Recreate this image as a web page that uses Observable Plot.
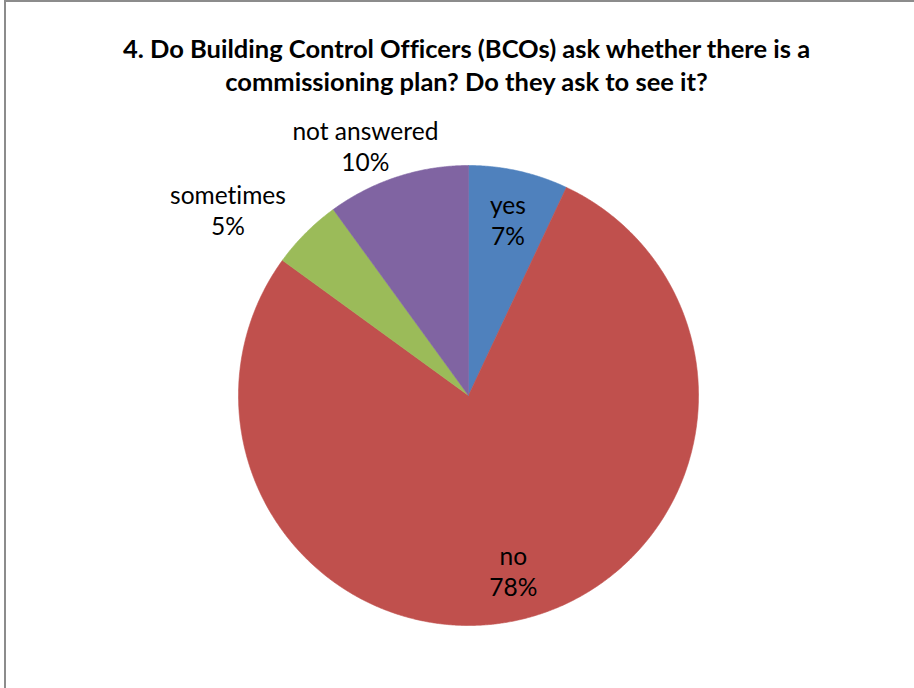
<!DOCTYPE html>
<html>
<head>
<meta charset="utf-8">
<script src="https://cdn.jsdelivr.net/npm/d3@7"></script>
<script src="https://cdn.jsdelivr.net/npm/@observablehq/plot@0.6"></script>
<style>
  html, body { margin: 0; padding: 0; background: #fff; }
  #wrap { position: relative; width: 914px; height: 688px; overflow: hidden; }
  #border { position: absolute; left: 4px; top: 0px; width: 940px; height: 720px;
            border-left: 2px solid #8c8c8c; border-top: 2px solid #8c8c8c; box-sizing: border-box; pointer-events: none; }
  #chart { position: absolute; left: 0; top: 0; }
  #chart text { font-variant-ligatures: none; }
</style>
</head>
<body>
<div id="wrap"><div id="chart"></div><div id="border"></div></div>
<script>
// ---- data ----
const categories = ["yes", "no", "sometimes", "not answered"];
const percents = [7, 78, 5, 10];
const colors = ["#4F81BD", "#C0504D", "#9BBB59", "#8064A2"];
const labelInside = [true, true, false, false];
const titleLines = ["4. Do Building Control Officers (BCOs) ask whether there is a", "commissioning plan? Do they ask to see it?"];

// ---- layout ----
const W = 914, H = 688;
const cx = 468, cy = 395, R = 230;
const labelFont = "Lato, 'Open Sans', sans-serif";
const labelSize = 24.5;
const lineH = 31;

const pie = d3.pie().sort(null).value(d => d.value).startAngle(0).endAngle(2 * Math.PI);
const arcs = pie(categories.map((c, i) => ({cat: c, value: percents[i]})));

// slice polygons in unit-radius coordinates
const slicePts = [];
arcs.forEach(a => {
  slicePts.push({cat: a.data.cat, x: 0, y: 0});
  const n = Math.max(4, Math.ceil((a.endAngle - a.startAngle) / 0.005));
  for (let k = 0; k <= n; k++) {
    const t = a.startAngle + (a.endAngle - a.startAngle) * k / n;
    slicePts.push({cat: a.data.cat, x: Math.sin(t), y: Math.cos(t)});
  }
  slicePts.push({cat: a.data.cat, x: 0, y: 0});
});

// label placement (inside: along mid-angle; outside: beyond the rim, pushed sideways)
const ctx = document.createElement("canvas").getContext("2d");
ctx.font = `${labelSize}px ${labelFont}`;
const labels = arcs.map((a, i) => {
  const mid = (a.startAngle + a.endAngle) / 2;
  const s = Math.sin(mid), c = Math.cos(mid);
  const text = `${a.data.cat}\n${percents[i]}%`;
  if (labelInside[i]) {
    const r = 0.785;
    return {text, x: r * s, y: r * c};
  }
  const hw = d3.max(text.split("\n"), t => ctx.measureText(t).width) / 2;
  const hh = lineH;
  const gap = 3;
  const px = (R + gap) * s + Math.sign(s) * Math.pow(Math.abs(s), 1.35) * hw * 2.08;
  const py = (R + gap) * c + c * hh * 0.95;
  return {text, x: px / R, y: py / R};
});

const chart = Plot.plot({
  width: W,
  height: H,
  margin: 0,
  x: {domain: [-cx / R, (W - cx) / R], axis: null},
  y: {domain: [-(H - cy) / R, cy / R], axis: null},
  color: {domain: categories, range: colors},
  style: {background: "transparent"},
  marks: [
    Plot.line(slicePts, {x: "x", y: "y", z: "cat", fill: "cat", stroke: "cat", strokeWidth: 0.6, curve: "linear"}),
    Plot.text(labels, {x: "x", y: "y", text: "text", fontSize: labelSize, lineHeight: lineH / labelSize,
      fontFamily: labelFont, fill: "#000", textAnchor: "middle", lineAnchor: "middle"}),
    Plot.text([titleLines.join("\n")], {frameAnchor: "top", dx: 9, dy: 34, fontSize: 25.5, fontWeight: "bold",
      fontFamily: labelFont, lineHeight: 33 / 25.5, fill: "#000", lineAnchor: "top", text: d => d})
  ]
});
document.getElementById("chart").appendChild(chart);
</script>
</body>
</html>
